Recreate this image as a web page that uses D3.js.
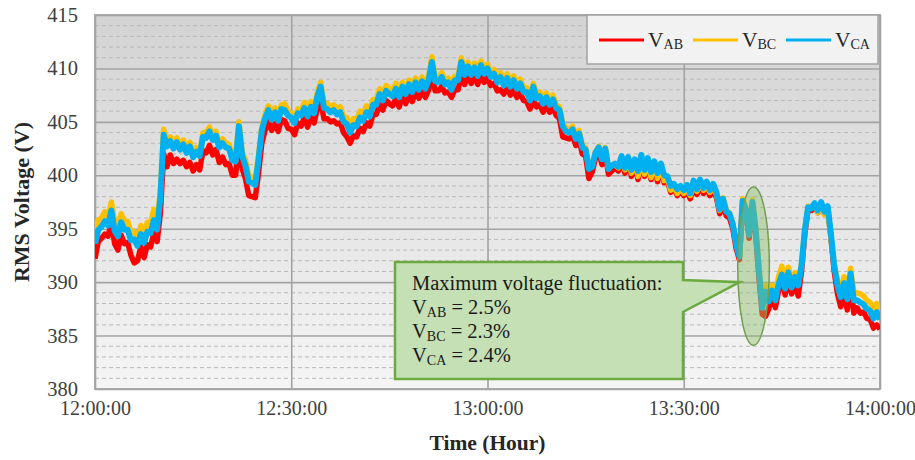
<!DOCTYPE html>
<html>
<head>
<meta charset="utf-8">
<script src="https://cdn.jsdelivr.net/npm/d3@7"></script>
<style>
  html, body { margin: 0; padding: 0; background: #ffffff; }
  svg { display: block; font-family: "Liberation Serif", "Times New Roman", serif; }
</style>
</head>
<body>
<svg id="chart" width="915" height="460"></svg>
<script>
// Three-phase line-to-line RMS voltage, one sample every 30 s from 12:00:00 to 14:00:00
const startTime = "12:00:00";
const stepSeconds = 30;

const vAB = [
  392.2, 393.8, 394.1, 394.5, 394.3, 395.6, 393.6, 393.0, 394.4, 393.6,
  393.7, 392.5, 391.8, 392.0, 393.3, 392.3, 393.5, 393.3, 394.6, 393.8,
  396.5, 402.0, 400.8, 401.9, 401.1, 401.5, 401.1, 401.4, 400.8, 401.2,
  400.4, 401.0, 400.5, 402.3, 402.1, 402.8, 401.9, 402.4, 401.2, 401.7,
  401.0, 401.1, 400.0, 400.0, 403.2, 400.6, 399.7, 398.1, 398.0, 397.9,
  400.2, 403.0, 404.2, 405.1, 404.2, 404.8, 404.1, 405.2, 405.1, 404.4,
  404.3, 403.8, 404.9, 404.6, 405.4, 404.5, 405.5, 404.9, 406.3, 406.9,
  405.3, 405.3, 405.0, 405.1, 404.8, 404.9, 404.0, 403.6, 403.0, 403.7,
  403.6, 404.4, 404.1, 404.9, 404.6, 405.7, 405.7, 406.6, 406.1, 407.0,
  406.7, 406.5, 407.2, 406.4, 407.4, 406.7, 407.6, 406.9, 407.8, 407.2,
  407.9, 407.3, 408.0, 409.4, 407.9, 407.9, 408.3, 407.7, 407.8, 407.3,
  408.0, 408.0, 409.3, 408.5, 409.3, 408.6, 409.2, 408.5, 409.4, 408.7,
  409.1, 408.4, 408.6, 407.9, 408.0, 407.6, 408.2, 407.5, 408.0, 407.3,
  407.7, 407.0, 406.9, 406.2, 407.1, 406.4, 406.6, 405.9, 406.5, 405.9,
  406.4, 405.6, 405.3, 403.6, 403.5, 403.4, 403.7, 402.8, 403.3, 402.0,
  401.8, 399.7, 400.3, 401.6, 402.1, 401.0, 402.0, 400.1, 400.4, 400.7,
  400.4, 401.5, 400.2, 401.4, 399.9, 401.2, 399.6, 401.6, 399.9, 401.3,
  399.6, 401.0, 399.4, 400.8, 399.3, 399.5, 398.4, 398.9, 398.1, 398.6,
  398.1, 398.5, 397.8, 398.9, 398.2, 398.9, 398.3, 398.8, 398.1, 398.6,
  397.9, 396.4, 397.4, 396.2, 396.0, 395.0, 393.2, 392.1, 397.3, 396.5,
  394.1, 397.2, 394.5, 390.4, 387.0, 386.8, 387.5, 388.6, 387.6, 389.2,
  390.2, 388.8, 390.4, 388.9, 389.8, 388.7, 391.0, 394.5, 396.8, 396.7,
  397.2, 396.5, 397.3, 396.4, 396.9, 394.2, 391.0, 388.9, 387.7, 389.1,
  387.4, 389.9, 387.1, 387.6, 387.1, 387.2, 386.6, 386.5, 385.7, 386.0,
  385.6
];

const vBC = [
  394.2, 395.8, 396.0, 396.6, 396.1, 397.5, 395.6, 395.2, 396.4, 395.6,
  395.7, 394.6, 394.7, 394.1, 395.3, 394.5, 395.6, 395.6, 396.8, 395.8,
  398.6, 404.3, 403.1, 403.6, 402.9, 403.5, 402.8, 403.3, 402.5, 403.1,
  402.1, 402.6, 402.2, 404.0, 404.0, 404.5, 403.7, 404.1, 403.0, 403.4,
  403.0, 402.9, 401.8, 401.7, 405.0, 402.2, 401.4, 400.0, 399.8, 399.6,
  401.9, 404.5, 405.7, 406.5, 405.6, 406.3, 405.5, 406.6, 406.7, 406.0,
  405.8, 405.3, 406.2, 406.1, 406.8, 406.0, 406.9, 406.3, 407.8, 408.7,
  406.8, 406.7, 406.4, 406.6, 406.2, 406.4, 405.5, 405.4, 404.6, 405.3,
  405.2, 406.0, 405.7, 406.5, 406.1, 407.1, 407.1, 408.1, 407.5, 408.4,
  408.1, 407.9, 408.6, 407.8, 408.7, 408.0, 408.9, 408.2, 409.1, 408.4,
  409.2, 408.5, 409.3, 411.1, 409.2, 409.1, 409.6, 408.9, 409.1, 408.4,
  409.3, 409.3, 411.0, 409.8, 410.6, 409.8, 410.5, 409.7, 410.7, 409.9,
  410.4, 409.6, 409.9, 409.1, 409.6, 408.8, 409.5, 408.7, 409.3, 408.5,
  409.0, 408.2, 408.2, 407.4, 408.6, 407.6, 407.8, 407.1, 407.7, 407.0,
  407.5, 406.6, 406.4, 404.9, 404.4, 404.3, 404.6, 403.7, 404.2, 402.8,
  402.6, 400.7, 400.9, 402.2, 402.7, 401.6, 402.6, 400.6, 400.9, 401.0,
  400.7, 401.7, 400.5, 401.6, 400.2, 401.4, 399.9, 401.8, 400.1, 401.5,
  399.8, 401.2, 399.7, 401.0, 399.5, 399.7, 398.6, 399.1, 398.3, 398.8,
  398.3, 398.7, 398.1, 399.1, 398.5, 399.2, 398.6, 399.0, 398.4, 398.9,
  398.2, 396.7, 397.9, 396.7, 396.5, 395.5, 393.7, 392.5, 397.8, 397.0,
  394.6, 397.7, 395.1, 391.3, 388.2, 389.7, 388.7, 389.7, 388.9, 390.5,
  391.5, 389.9, 391.4, 390.0, 390.9, 390.1, 391.7, 394.9, 397.1, 396.9,
  397.3, 396.5, 397.2, 396.3, 396.7, 394.2, 391.7, 390.2, 389.2, 390.5,
  389.0, 391.3, 389.0, 389.0, 388.9, 388.7, 388.3, 388.1, 387.5, 388.0,
  387.3
];

const vCA = [
  393.6, 394.9, 395.2, 395.7, 395.3, 396.7, 394.8, 394.3, 395.6, 394.9,
  394.9, 393.9, 394.0, 393.4, 394.5, 393.7, 394.7, 394.6, 395.8, 394.9,
  398.0, 403.8, 402.7, 403.2, 402.5, 403.1, 402.4, 402.9, 402.1, 402.7,
  401.7, 402.2, 401.8, 403.6, 403.5, 404.1, 403.3, 403.7, 402.6, 403.0,
  402.6, 402.5, 401.4, 401.3, 404.6, 401.8, 400.9, 399.4, 399.3, 399.1,
  401.5, 404.2, 405.3, 406.1, 405.2, 405.9, 405.1, 406.2, 406.1, 405.6,
  405.4, 404.9, 405.8, 405.6, 406.3, 405.5, 406.4, 405.8, 407.4, 408.3,
  406.3, 406.2, 405.9, 406.1, 405.7, 405.9, 405.0, 404.8, 404.0, 404.7,
  404.6, 405.4, 405.1, 405.9, 405.5, 406.6, 406.6, 407.6, 407.0, 407.9,
  407.6, 407.4, 408.1, 407.3, 408.3, 407.6, 408.5, 407.8, 408.7, 408.0,
  408.8, 408.1, 408.9, 410.6, 408.8, 408.7, 409.2, 408.5, 408.7, 408.0,
  408.9, 408.9, 410.6, 409.4, 410.2, 409.4, 410.1, 409.3, 410.3, 409.5,
  410.0, 409.2, 409.5, 408.7, 409.2, 408.4, 409.1, 408.3, 408.9, 408.1,
  408.6, 407.8, 407.8, 407.0, 408.3, 407.2, 407.4, 406.7, 407.3, 406.6,
  407.1, 406.3, 406.1, 404.6, 404.1, 404.0, 404.3, 403.4, 403.9, 402.6,
  402.4, 400.6, 400.8, 402.1, 402.6, 401.5, 402.5, 400.6, 400.9, 401.1,
  400.8, 401.8, 400.7, 401.7, 400.5, 401.5, 400.4, 401.9, 400.5, 401.6,
  400.3, 401.3, 400.2, 401.1, 400.0, 399.9, 399.0, 399.2, 398.7, 399.0,
  398.6, 399.1, 398.3, 399.5, 398.7, 399.6, 398.8, 399.4, 398.6, 399.2,
  398.4, 396.8, 397.8, 396.6, 396.4, 395.4, 393.6, 392.4, 397.6, 396.8,
  394.4, 397.5, 394.9, 391.0, 387.6, 389.1, 388.2, 389.2, 388.3, 389.8,
  390.7, 389.4, 390.9, 389.5, 390.5, 389.7, 391.5, 394.8, 397.0, 396.9,
  397.4, 396.7, 397.5, 396.6, 397.1, 394.5, 391.5, 389.7, 388.6, 389.9,
  388.4, 390.8, 388.3, 388.3, 388.1, 387.9, 387.5, 387.3, 386.6, 387.2,
  386.5
];

const seriesSymbols = [["V", "AB"], ["V", "BC"], ["V", "CA"]];
const seriesColors = ["#ff0000", "#ffc000", "#00b0f0"];
const seriesWidths = [5.5, 5.5, 6];

const yTickValues = [380, 385, 390, 395, 400, 405, 410, 415];
const xTickLabels = ["12:00:00", "12:30:00", "13:00:00", "13:30:00", "14:00:00"];
const yTitle = "RMS Voltage (V)";
const xTitle = "Time (Hour)";

// Highlighted disturbance window and the callout describing it
const highlightWindow = ["13:38:15", "13:43:05"];
const highlightRange = [384.1, 398.9];
const calloutTitle = "Maximum voltage fluctuation:";
const fluctuationValues = ["2.5%", "2.3%", "2.4%"];

// ---------------------------------------------------------------
const parseTime = d3.timeParse("%H:%M:%S");
const fmtTime = d3.timeFormat("%H:%M:%S");
const t0 = parseTime(startTime);
const timeAt = i => new Date(t0.getTime() + i * stepSeconds * 1000);
const serif = "'Liberation Serif','Times New Roman',serif";

const svg = d3.select("#chart");
const margin = { left: 95, right: 35, top: 15, bottom: 71 };
const W = 915, H = 460;
const plotW = W - margin.left - margin.right;
const plotH = H - margin.top - margin.bottom;

const x = d3.scaleTime()
  .domain([parseTime(xTickLabels[0]), parseTime(xTickLabels[xTickLabels.length - 1])])
  .range([margin.left, margin.left + plotW]);
const y = d3.scaleLinear()
  .domain([yTickValues[0], yTickValues[yTickValues.length - 1]])
  .range([margin.top + plotH, margin.top]);

// Plot background gradient
const defs = svg.append("defs");
const grad = defs.append("linearGradient")
  .attr("id", "plotBg").attr("x1", 0).attr("y1", 0).attr("x2", 0).attr("y2", 1);
grad.append("stop").attr("offset", "0%").attr("stop-color", "#d3d3d3");
grad.append("stop").attr("offset", "100%").attr("stop-color", "#f5f5f5");

svg.append("rect")
  .attr("x", margin.left).attr("y", margin.top)
  .attr("width", plotW).attr("height", plotH)
  .attr("fill", "url(#plotBg)");

// Minor (1 V) dashed gridlines
const minorVals = d3.range(yTickValues[0] + 1, yTickValues[yTickValues.length - 1]).filter(v => v % 5 !== 0);
svg.append("g").selectAll("line").data(minorVals).join("line")
  .attr("x1", margin.left).attr("x2", margin.left + plotW)
  .attr("y1", d => y(d)).attr("y2", d => y(d))
  .attr("stroke", "#b9b9b9").attr("stroke-width", 1)
  .attr("stroke-dasharray", "4,3");

// Major gridlines via axis
svg.append("g")
  .attr("transform", `translate(${margin.left},0)`)
  .call(d3.axisLeft(y).tickValues(yTickValues).tickSize(-plotW).tickFormat(""))
  .call(g => g.select(".domain").remove())
  .call(g => g.selectAll("line").attr("stroke", "#a3a3a3").attr("stroke-width", 1.6));

const xTicks = xTickLabels.map(parseTime);
svg.append("g")
  .attr("transform", `translate(0,${margin.top + plotH})`)
  .call(d3.axisBottom(x).tickValues(xTicks).tickSize(-plotH).tickFormat(""))
  .call(g => g.select(".domain").remove())
  .call(g => g.selectAll("line").attr("stroke", "#a3a3a3").attr("stroke-width", 1.6));

// Plot frame
svg.append("rect")
  .attr("x", margin.left).attr("y", margin.top)
  .attr("width", plotW).attr("height", plotH)
  .attr("fill", "none").attr("stroke", "#a3a3a3").attr("stroke-width", 1.8);

// Tick labels
svg.append("g")
  .attr("transform", `translate(${margin.left},0)`)
  .call(d3.axisLeft(y).tickValues(yTickValues).tickSize(0).tickPadding(17).tickFormat(d3.format("d")))
  .call(g => g.select(".domain").remove())
  .call(g => g.selectAll("text")
    .attr("font-family", serif).attr("font-size", 20.5).attr("fill", "#404040"));

svg.append("g")
  .attr("transform", `translate(0,${margin.top + plotH})`)
  .call(d3.axisBottom(x).tickValues(xTicks).tickSize(0).tickPadding(12).tickFormat(fmtTime))
  .call(g => g.select(".domain").remove())
  .call(g => g.selectAll("text")
    .attr("font-family", serif).attr("font-size", 20).attr("fill", "#404040"));

// Axis titles
svg.append("text")
  .attr("transform", `translate(29,${margin.top + plotH / 2}) rotate(-90)`)
  .attr("text-anchor", "middle")
  .attr("font-size", 22).attr("font-weight", "bold").attr("fill", "#262626")
  .text(yTitle);
svg.append("text")
  .attr("x", margin.left + plotW / 2).attr("y", 450)
  .attr("text-anchor", "middle")
  .attr("font-size", 21.5).attr("font-weight", "bold").attr("fill", "#262626")
  .text(xTitle);

// Series lines
const seriesData = [vAB, vBC, vCA];
const line = d3.line()
  .x((d, i) => x(timeAt(i)))
  .y(d => y(d));
defs.append("clipPath").attr("id", "plotClip")
  .append("rect").attr("x", margin.left).attr("y", margin.top).attr("width", plotW).attr("height", plotH);

svg.append("g").attr("clip-path", "url(#plotClip)")
  .selectAll("path").data(seriesData).join("path")
  .attr("d", line)
  .attr("fill", "none")
  .attr("stroke", (d, i) => seriesColors[i])
  .attr("stroke-width", (d, i) => seriesWidths[i])
  .attr("stroke-linejoin", "round");

// Highlight ellipse
const hx0 = x(parseTime(highlightWindow[0])), hx1 = x(parseTime(highlightWindow[1]));
const hy0 = y(highlightRange[1]), hy1 = y(highlightRange[0]);
svg.append("ellipse")
  .attr("cx", (hx0 + hx1) / 2).attr("cy", (hy0 + hy1) / 2)
  .attr("rx", (hx1 - hx0) / 2).attr("ry", (hy1 - hy0) / 2)
  .attr("fill", "#8fbf6a").attr("fill-opacity", 0.45)
  .attr("stroke", "#6f9f50").attr("stroke-width", 1.5);

// Callout box with pointer toward the highlighted window
const bx0 = 395, bx1 = 683, by0 = 262, by1 = 379;
const tipX = hx0 + 2, tipY = y(390);
const callout = [
  [bx0, by0], [bx1, by0], [bx1, 280], [tipX, tipY], [bx1, 312], [bx1, by1], [bx0, by1]
];
svg.append("path")
  .attr("d", d3.line()(callout) + "Z")
  .attr("fill", "#c5e0b4").attr("stroke", "#6aaa3e").attr("stroke-width", 2.5)
  .attr("stroke-linejoin", "miter");

const ctext = svg.append("g").attr("font-size", 20.5).attr("fill", "#1a1a1a");
ctext.append("text").attr("x", 412).attr("y", 290).text(calloutTitle);
fluctuationValues.forEach((v, i) => {
  const t = ctext.append("text").attr("x", 412).attr("y", 314 + i * 24);
  t.append("tspan").text(seriesSymbols[i][0]);
  t.append("tspan").attr("font-size", 14).attr("dy", 3).text(seriesSymbols[i][1]);
  t.append("tspan").attr("dy", -3).text(" = " + v);
});

// Legend
const lg = svg.append("g");
lg.append("rect")
  .attr("x", 587).attr("y", margin.top).attr("width", 291).attr("height", 49)
  .attr("fill", "#f2f2f2").attr("stroke", "#a3a3a3").attr("stroke-width", 1.5);
const legendX = [599, 693, 786];
seriesSymbols.forEach((s, i) => {
  const g = lg.append("g").attr("transform", `translate(${legendX[i]},40)`);
  g.append("line").attr("x1", 0).attr("x2", 45).attr("y1", 0).attr("y2", 0)
    .attr("stroke", seriesColors[i]).attr("stroke-width", 3);
  const t = g.append("text").attr("x", 49).attr("y", 7).attr("font-size", 21.5).attr("fill", "#262626");
  t.append("tspan").text(s[0]);
  t.append("tspan").attr("font-size", 14).attr("dy", 2).text(s[1]);
});
</script>
</body>
</html>
